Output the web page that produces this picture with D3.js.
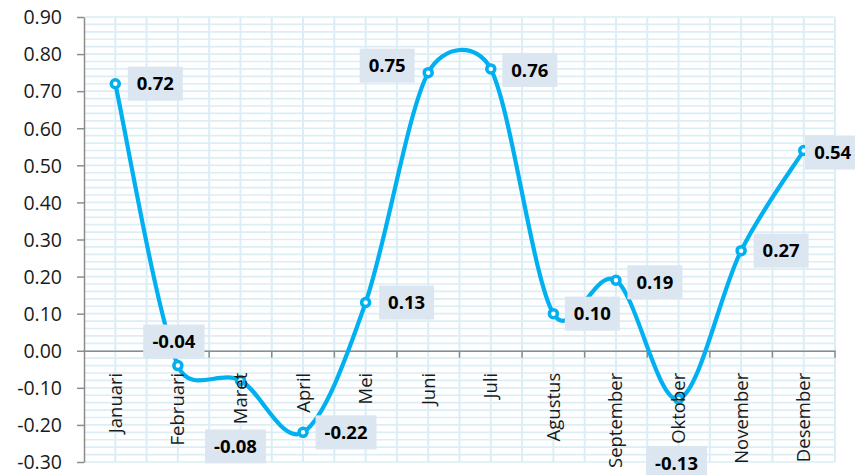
<!DOCTYPE html>
<html><head><meta charset="utf-8">
<script src="https://cdn.jsdelivr.net/npm/d3@7"></script>
<style>body{margin:0;background:#fff}svg{display:block}</style>
</head><body><svg id="c" width="855" height="475"></svg>
<script>
const months = ["Januari","Februari","Maret","April","Mei","Juni","Juli","Agustus","September","Oktober","November","Desember"];
const values = [0.72,-0.04,-0.08,-0.22,0.13,0.75,0.76,0.10,0.19,-0.13,0.27,0.54];
const yTicks = [-0.30,-0.20,-0.10,0.00,0.10,0.20,0.30,0.40,0.50,0.60,0.70,0.80,0.90];
// label placement relative to point (layout, not data)
const labelOffsets = [[40,0],[-4,-24],[-5,66],[43,0],[41,0],[-41,-7],[39,1],[39,0],[39,2],[-2,64],[40,0],[29,2]];

const fmt = v => d3.format(".2f")(v).replace("\u2212","-");
const svg = d3.select("#c");
const L=84, R=835, T=17, B=462;
const x = d3.scaleBand().domain(months).range([L,R]);
const y = d3.scaleLinear().domain([-0.3,0.9]).range([B,T]);
const grid = "#dbeef5";
const g = svg.append("g");
const minor = d3.range(-0.30,0.9001,0.02);
g.selectAll(".hg").data(minor).join("line")
 .attr("x1",L).attr("x2",R).attr("y1",d=>y(d)).attr("y2",d=>y(d))
 .attr("stroke",grid).attr("stroke-width",1.6);
const halfs = d3.range(1,months.length*2+1).map(i=>L+i*x.bandwidth()/2);
g.selectAll(".vg").data(halfs).join("line")
 .attr("x1",d=>d).attr("x2",d=>d).attr("y1",T).attr("y2",B)
 .attr("stroke",grid).attr("stroke-width",2);

const yAxis = d3.axisLeft(y).tickValues(yTicks).tickFormat(fmt).tickSize(7).tickSizeOuter(0);
const ya = svg.append("g").attr("transform",`translate(${L},0)`).call(yAxis);
ya.select(".domain").attr("stroke","#8c8c8c").attr("stroke-width",1.5);
ya.selectAll(".tick line").attr("stroke","#8c8c8c").attr("stroke-width",1.5);
ya.selectAll("text").attr("font-family","Open Sans").attr("font-size",19.5).attr("fill","#1a1a1a").attr("x",-22).attr("dy","0.35em");

const pts = months.map((m,i)=>[x(m)+x.bandwidth()/2, y(values[i])]);
// Excel-like smoothed line: Catmull-Rom tangents (1/6), arms clamped to half segment length
function smoothPath(p){
  const n=p.length;
  const tan = p.map((q,i)=>{
    const a=p[Math.max(0,i-1)], b=p[Math.min(n-1,i+1)];
    return [(b[0]-a[0])/6,(b[1]-a[1])/6];
  });
  const path = d3.path();
  path.moveTo(p[0][0],p[0][1]);
  for(let i=0;i<n-1;i++){
    const a=p[i], b=p[i+1];
    const seg=Math.hypot(b[0]-a[0],b[1]-a[1]), lim=seg/2;
    const clamp=t=>{const l=Math.hypot(t[0],t[1]); const f=l>lim?lim/l:1; return [t[0]*f,t[1]*f];};
    const t1=clamp(tan[i]), t2=clamp(tan[i+1]);
    path.bezierCurveTo(a[0]+t1[0],a[1]+t1[1],b[0]-t2[0],b[1]-t2[1],b[0],b[1]);
  }
  return path.toString();
}

const xAxis = d3.axisBottom(x).tickSize(0).tickSizeOuter(0);
const xa = svg.append("g").attr("transform",`translate(0,${y(0)})`).call(xAxis);
xa.select(".domain").attr("stroke","#8c8c8c").attr("stroke-width",1.6);
xa.selectAll("text").remove();
svg.append("g").selectAll("line").data(d3.range(1,months.length+1).map(i=>L+i*x.bandwidth())).join("line")
 .attr("x1",d=>d).attr("x2",d=>d).attr("y1",y(0)).attr("y2",y(0)+7)
 .attr("stroke","#8c8c8c").attr("stroke-width",1.5);

svg.append("path").attr("d",smoothPath(pts)).attr("fill","none").attr("stroke","#00b0f0").attr("stroke-width",4.2);
svg.selectAll(".pt").data(pts).join("circle").attr("cx",d=>d[0]).attr("cy",d=>d[1]).attr("r",4)
 .attr("fill","#ffffff").attr("stroke","#00b0f0").attr("stroke-width",3.5);

// category labels drawn above the series
const xl = svg.append("g").attr("transform",`translate(0,${y(0)})`).call(xAxis);
xl.select(".domain").remove();
xl.selectAll(".tick line").remove();
xl.selectAll("text").attr("font-family","Open Sans").attr("font-size",18.5).attr("fill","#1a1a1a")
 .attr("transform","rotate(-90)").attr("text-anchor","end").attr("x",-22).attr("y",0).attr("dy","0.35em");

const lab = svg.append("g");
values.forEach((v,i)=>{
  const cx = pts[i][0]+labelOffsets[i][0], cy = pts[i][1]+labelOffsets[i][1];
  const gg = lab.append("g");
  const t = gg.append("text").attr("x",cx).attr("y",cy).attr("dy","0.36em").attr("text-anchor","middle")
   .attr("font-family","Open Sans").attr("font-weight","bold").attr("font-size",18.5).attr("fill","#000")
   .text(fmt(v));
  const bb = t.node().getBBox();
  gg.insert("rect","text").attr("x",cx-bb.width/2-9).attr("y",cy-17).attr("width",bb.width+18).attr("height",34).attr("fill","#dce6f1");
});
</script></body></html>
